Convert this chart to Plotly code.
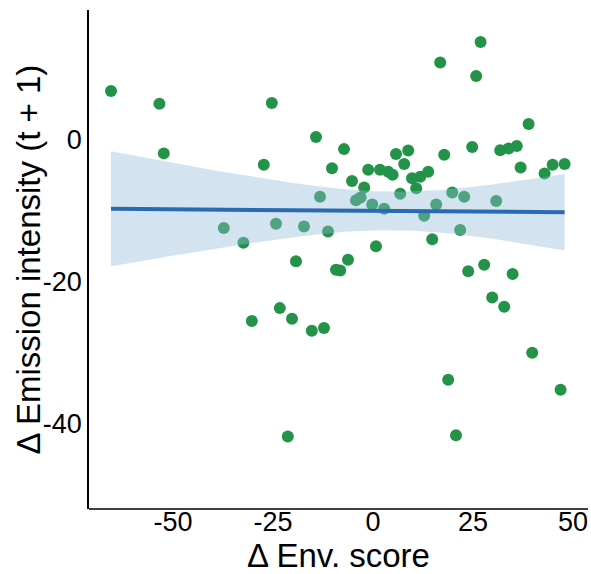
import numpy as np
import plotly.graph_objects as go

# Δ Env. score (x) and Δ Emission intensity (t+1) (y)
env_score = [-65.5, -53.4, -52.3, -37.3, -32.4, -30.3, -25.3, -27.3, -24.25, -23.3,
             -21.3, -20.25, -19.25, -17.25, -15.3, -14.25, -13.25, -12.25, -11.25, -10.25,
             -9.25, -8.2, -7.25, -6.25, -5.25, -4.25, -3.1, -2.2, -1.2, -0.2,
             0.75, 1.75, 2.8, 3.8, 4.9, 5.75, 6.8, 7.8, 8.8, 9.75,
             10.8, 11.8, 12.8, 13.8, 14.8, 15.8, 16.8, 17.8, 18.8, 19.8,
             20.75, 21.8, 22.8, 23.8, 24.8, 25.8, 26.9, 27.8, 29.8, 30.8,
             31.8, 32.8, 33.9, 34.9, 35.95, 36.9, 38.9, 39.8, 42.9, 44.9,
             46.9, 47.9]
emission = [6.9, 5.1, -1.9, -12.4, -14.5, -25.5, 5.2, -3.5, -11.8, -23.7,
            -41.8, -25.2, -17.1, -12.2, -26.9, 0.4, -8.0, -26.5, -12.9, -4.0,
            -18.3, -18.4, -1.3, -16.9, -5.8, -8.5, -8.1, -6.7, -4.2, -9.1,
            -15.0, -4.2, -9.7, -4.5, -4.9, -2.0, -7.6, -3.4, -1.5, -5.4,
            -6.8, -5.2, -10.7, -4.5, -14.0, -9.1, 10.9, -2.1, -33.8, -7.4,
            -41.6, -12.7, -8.0, -18.5, -1.0, 9.0, 13.8, -17.6, -22.2, -8.6,
            -1.45, -23.5, -1.2, -18.9, -0.85, -3.9, 2.25, -30.0, -4.75, -3.5,
            -35.2, -3.4]

x_ticks = [-50, -25, 0, 25, 50]
y_ticks = [0, -20, -40]

x = np.array(env_score)
y = np.array(emission)
n = len(x)
slope, intercept = np.polyfit(x, y, 1)
grid = np.linspace(x.min(), x.max(), 100)
yhat = intercept + slope * grid
resid = y - (intercept + slope * x)
s = np.sqrt(np.sum(resid ** 2) / (n - 2))
sxx = np.sum((x - x.mean()) ** 2)
se = s * np.sqrt(1.0 / n + (grid - x.mean()) ** 2 / sxx)
tcrit = 1.994
upper = yhat + tcrit * se
lower = yhat - tcrit * se

fig = go.Figure()
fig.add_trace(go.Scatter(x=env_score, y=emission, mode="markers",
                         marker=dict(color="#24934a", size=12, line=dict(width=0)),
                         showlegend=False, hoverinfo="skip"))
fig.add_trace(go.Scatter(x=np.concatenate([grid, grid[::-1]]),
                         y=np.concatenate([upper, lower[::-1]]),
                         fill="toself", fillcolor="rgba(145,188,218,0.4)",
                         line=dict(width=0), mode="lines",
                         showlegend=False, hoverinfo="skip"))
fig.add_trace(go.Scatter(x=grid, y=yhat, mode="lines",
                         line=dict(color="#2a6ab0", width=4),
                         showlegend=False, hoverinfo="skip"))

font_family = "Liberation Sans, Arial, sans-serif"
plot_w = 591 - 89 - 3
plot_h = 574 - 10 - 65
fig.update_layout(
    width=591, height=574,
    margin=dict(l=89, r=3, t=10, b=65),
    paper_bgcolor="white", plot_bgcolor="white",
    font=dict(family=font_family, color="black"),
    xaxis=dict(range=[-71, 53.75], tickvals=x_ticks, ticktext=[str(v) for v in x_ticks],
               anchor="free", position=6 / plot_h,
               showgrid=False, zeroline=False, showline=False,
               ticks="", tickfont=dict(size=27),
               title=dict(text="Δ Env. score", font=dict(size=33), standoff=10)),
    yaxis=dict(range=[-52.0, 18.3], tickvals=y_ticks, ticktext=[str(v) for v in y_ticks],
               showgrid=False, zeroline=False, showline=True, linecolor="black",
               linewidth=1.5, ticks="", tickfont=dict(size=27), ticklabelstandoff=0),
    shapes=[dict(type="line", xref="paper", yref="paper", x0=0, x1=1, y0=0, y1=0,
                 line=dict(color="black", width=1.5))],
    annotations=[dict(text="Δ Emission intensity (t + 1)", textangle=-90,
                      xref="paper", yref="paper", x=-61 / plot_w, y=0.5,
                      xanchor="center", yanchor="middle", showarrow=False,
                      font=dict(size=33, family=font_family, color="black"))],
)
fig.write_html("out.html")
